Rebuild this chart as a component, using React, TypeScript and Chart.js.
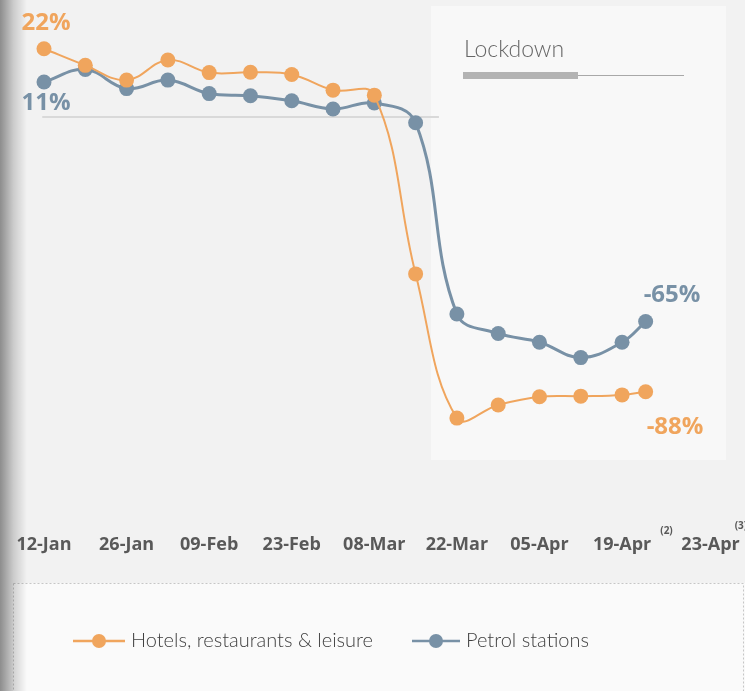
import React, { useEffect, useRef } from "react";
import { Chart, registerables } from "chart.js";

Chart.register(...registerables);

// Days since 12-Jan (weekly points, last one 23-Apr)
const days = [0, 7, 14, 21, 28, 35, 42, 49, 56, 63, 70, 77, 84, 91, 98, 102];
const hotels = [21.8, 16.5, 11.8, 18.2, 14.2, 14.3, 13.6, 8.6, 7.0, -50.0, -96.0, -91.8, -89.2, -89.0, -88.6, -87.6];
const petrol = [11.2, 15.2, 9.1, 11.8, 7.5, 6.8, 5.2, 2.6, 4.5, -1.8, -62.8, -69.0, -71.8, -76.7, -71.8, -65.2];
const tickValues = [0, 14, 28, 42, 56, 70, 84, 98, 113];
const tickLabels = ["12-Jan", "26-Jan", "09-Feb", "23-Feb", "08-Mar", "22-Mar", "05-Apr", "19-Apr", "23-Apr"];
const footnotes = [
  { after: 7, text: "(2)", dx: 9, y: 534 },
  { after: 8, text: "(3)", dx: -5, y: 529 },
];
const seriesNames = ["Hotels, restaurants & leisure", "Petrol stations"];
const lockdownLabel = "Lockdown";
const lockdownStartDay = 65.6;

const ORANGE = "#F0A55D";
const BLUE = "#7891A6";
const TEXT = "#595959";

const decorPlugin = {
  id: "decor",
  beforeDraw(chart: any) {
    const { ctx, width, height, scales } = chart;
    const x = scales.x;
    const y = scales.y;
    ctx.save();
    ctx.fillStyle = "#f2f2f2";
    ctx.fillRect(0, 0, width, height);
    // lockdown box
    const bx = x.getPixelForValue(lockdownStartDay);
    ctx.fillStyle = "#f8f8f8";
    ctx.fillRect(bx, 6, 726 - bx, 454);
    // zero baseline
    const y0 = y.getPixelForValue(0);
    ctx.strokeStyle = "#d9d9d9";
    ctx.lineWidth = 2;
    ctx.beginPath();
    ctx.moveTo(x.getPixelForValue(-0.3), y0);
    ctx.lineTo(bx + 8, y0);
    ctx.stroke();
    // legend box
    ctx.fillStyle = "#fafafa";
    ctx.fillRect(13, 583, width - 13, height - 583);
    ctx.strokeStyle = "#c6c6c6";
    ctx.lineWidth = 1;
    ctx.setLineDash([2, 2]);
    ctx.strokeRect(13.5, 583.5, width - 15, height);
    ctx.setLineDash([]);
    // left shadow strip
    const g = ctx.createLinearGradient(0, 0, 27, 0);
    g.addColorStop(0, "rgba(0,0,0,0.42)");
    g.addColorStop(0.5, "rgba(0,0,0,0.16)");
    g.addColorStop(1, "rgba(0,0,0,0)");
    ctx.fillStyle = g;
    ctx.fillRect(0, 0, 27, height);
    ctx.restore();
  },
  afterDraw(chart: any) {
    const { ctx, scales } = chart;
    const x = scales.x;
    ctx.save();
    // lockdown title + bar
    ctx.fillStyle = "#666666";
    ctx.font = "300 23px Lato";
    ctx.textAlign = "left";
    ctx.textBaseline = "alphabetic";
    ctx.fillText(lockdownLabel, 464, 57);
    ctx.fillStyle = "#b3b3b3";
    ctx.fillRect(463, 72, 115, 7);
    ctx.strokeStyle = "#a8a8a8";
    ctx.lineWidth = 1;
    ctx.beginPath();
    ctx.moveTo(578, 75.5);
    ctx.lineTo(684, 75.5);
    ctx.stroke();

    // data labels
    const m0 = chart.getDatasetMeta(0).data;
    const m1 = chart.getDatasetMeta(1).data;
    const d0 = hotels;
    const d1 = petrol;
    ctx.font = "bold 24px 'Open Sans'";
    const fmt = (v: number) => Math.round(v) + "%";
    ctx.textAlign = "center";
    ctx.fillStyle = ORANGE;
    ctx.fillText(fmt(d0[0]), m0[0].x + 2, m0[0].y - 19);
    ctx.fillStyle = BLUE;
    ctx.fillText(fmt(d1[0]), m1[0].x + 2, m1[0].y + 28);
    ctx.textAlign = "left";
    const l1 = m1[m1.length - 1];
    ctx.fillText(fmt(d1[d1.length - 1]), l1.x - 2, l1.y - 20);
    ctx.fillStyle = ORANGE;
    const l0 = m0[m0.length - 1];
    ctx.fillText(fmt(d0[d0.length - 1]), l0.x + 1, l0.y + 42);

    // footnote superscripts
    ctx.fillStyle = TEXT;
    ctx.textAlign = "left";
    footnotes.forEach((f) => {
      const px = x.getPixelForValue(tickValues[f.after]);
      ctx.font = "bold 18px 'Open Sans'";
      const w = ctx.measureText(tickLabels[f.after]).width;
      ctx.font = "bold 10px 'Open Sans'";
      ctx.fillText(f.text, px + w / 2 + f.dx, f.y);
    });

    // legend
    const ly = 641;
    const items = [
      { x0: 73, x1: 125, tx: 131 },
      { x0: 412, x1: 460, tx: 466 },
    ];
    chart.data.datasets.forEach((ds: any, i: number) => {
      const it = items[i];
      ctx.strokeStyle = ds.borderColor;
      ctx.lineWidth = 2.5;
      ctx.beginPath();
      ctx.moveTo(it.x0, ly);
      ctx.lineTo(it.x1, ly);
      ctx.stroke();
      ctx.fillStyle = ds.borderColor;
      ctx.beginPath();
      ctx.arc((it.x0 + it.x1) / 2, ly, 7, 0, Math.PI * 2);
      ctx.fill();
      ctx.fillStyle = "#404040";
      ctx.font = "300 20px Lato";
      ctx.textAlign = "left";
      ctx.textBaseline = "middle";
      ctx.fillText(ds.label, it.tx, ly);
    });
    ctx.restore();
  },
};

export default function App() {
  const ref = useRef<HTMLCanvasElement>(null);
  useEffect(() => {
    if (!ref.current) return;
    const chart = new Chart(ref.current, {
      type: "line",
      data: {
        datasets: [
          {
            label: seriesNames[0],
            data: hotels.map((v, i) => ({ x: days[i], y: v })) as any,
            borderColor: ORANGE,
            backgroundColor: ORANGE,
            borderWidth: 2,
            pointRadius: 7.5,
            pointBorderWidth: 0,
            tension: 0.4,
            clip: false as any,
          },
          {
            label: seriesNames[1],
            data: petrol.map((v, i) => ({ x: days[i], y: v })) as any,
            borderColor: BLUE,
            backgroundColor: BLUE,
            borderWidth: 3,
            pointRadius: 7.5,
            pointBorderWidth: 0,
            tension: 0.4,
            clip: false as any,
          },
        ],
      },
      options: {
        responsive: false,
        animation: false,
        devicePixelRatio: 1,
        layout: { autoPadding: false, padding: { left: 20, right: 15, top: 0, bottom: 133 } },
        plugins: { legend: { display: false }, tooltip: { enabled: false } },
        scales: {
          x: {
            type: "linear",
            min: -4.07,
            max: 116.3,
            grid: { display: false },
            border: { display: false },
            afterBuildTicks: (axis: any) => {
              axis.ticks = tickValues.map((v) => ({ value: v }));
            },
            ticks: {
              autoSkip: false,
              maxRotation: 0,
              padding: 2,
              color: TEXT,
              font: { family: "'Open Sans'", size: 18, weight: "bold" },
              callback: (_v: any, i: number) => tickLabels[i],
            },
          },
          y: {
            display: false,
            min: -129.9,
            max: 37.35,
          },
        },
      },
      plugins: [decorPlugin],
    });
    return () => chart.destroy();
  }, []);
  return (
    <div style={{ position: "fixed", left: 0, top: 0, width: 745, height: 691 }}>
      <canvas ref={ref} width={745} height={691} style={{ display: "block" }} />
    </div>
  );
}
